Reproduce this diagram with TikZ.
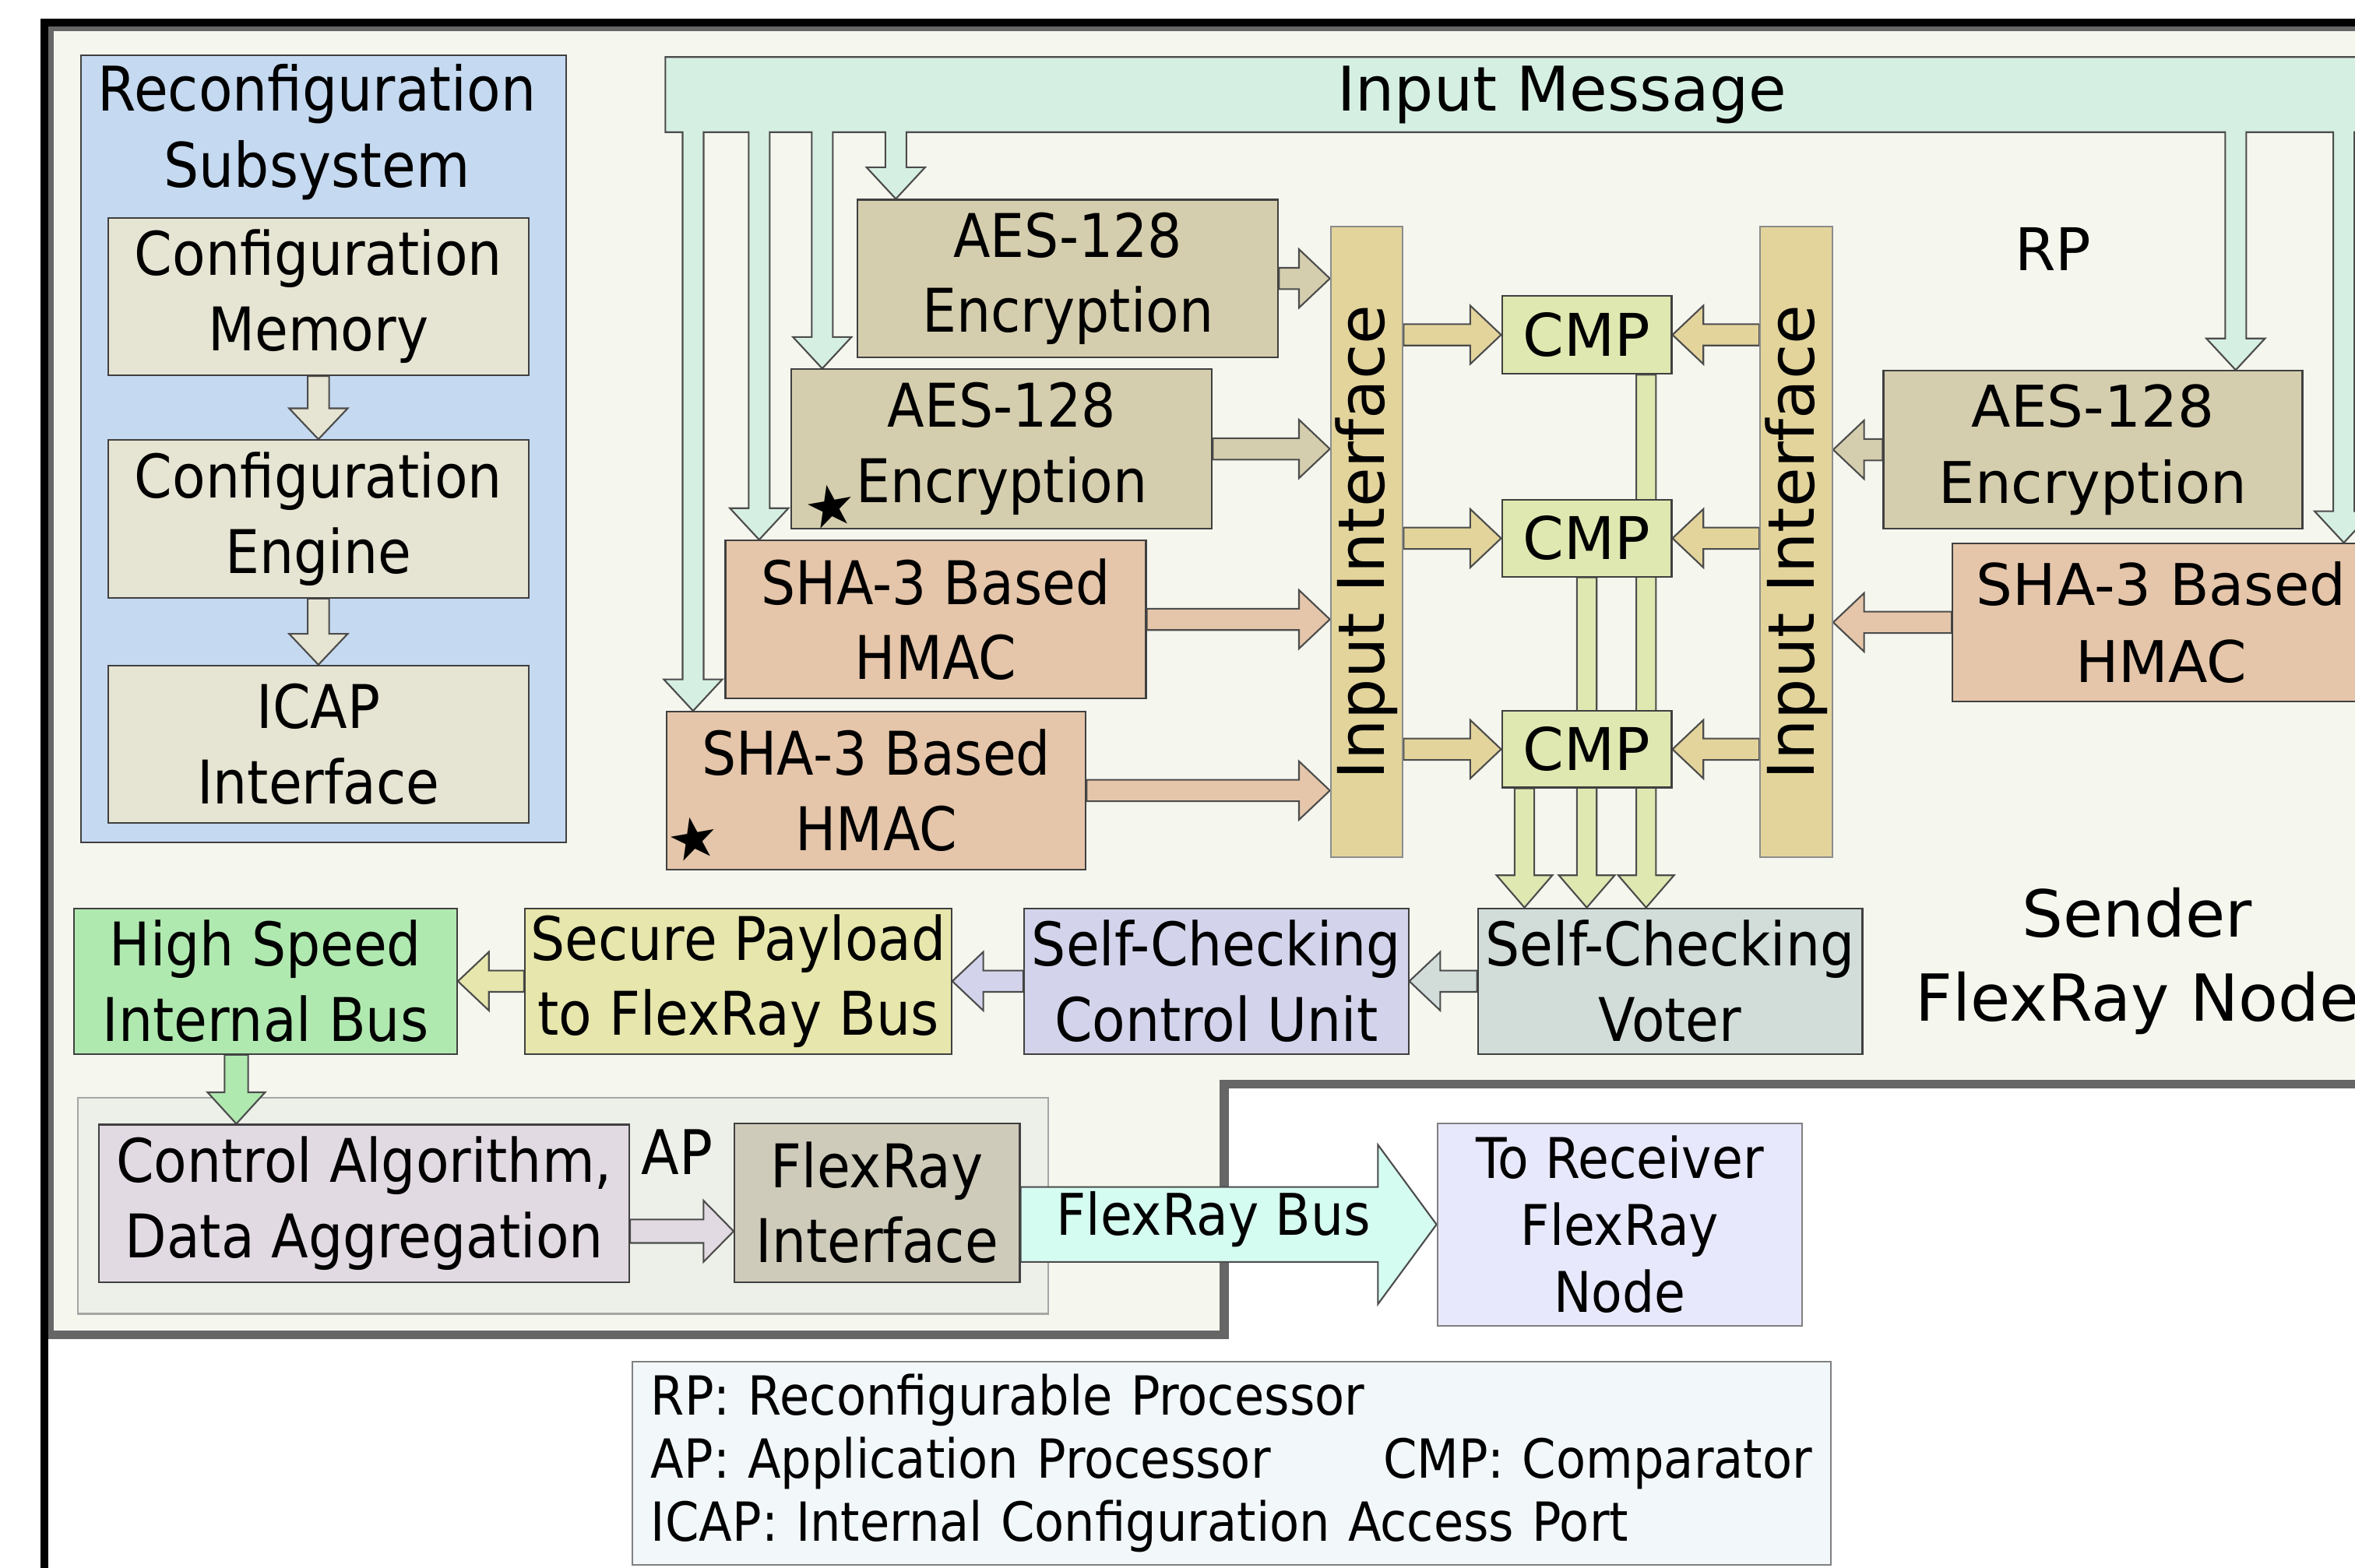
\documentclass[tikz,border=0pt]{standalone}
\usepackage{fontspec}
\newfontfamily\condfont[FakeStretch=0.9]{DejaVu Sans}
\newfontfamily\widefont{DejaVu Sans}
\usetikzlibrary{calc,positioning}

\definecolor{senderbg}{HTML}{F5F6EE}
\definecolor{senderln}{HTML}{666666}
\definecolor{reconcol}{HTML}{C5D9F0}
\definecolor{cfgcol}{HTML}{E6E4D2}
\definecolor{msgcol}{HTML}{D6EFE3}
\definecolor{aescol}{HTML}{D5CEAE}
\definecolor{shacol}{HTML}{E5C6AA}
\definecolor{ifcol}{HTML}{E3D49C}
\definecolor{cmpcol}{HTML}{DFE8B0}
\definecolor{votercol}{HTML}{D2DDDA}
\definecolor{ctrlcol}{HTML}{D3D3EB}
\definecolor{paycol}{HTML}{E7E6AC}
\definecolor{buscol}{HTML}{B0E9B0}
\definecolor{apcol}{HTML}{ECF0E8}
\definecolor{algcol}{HTML}{E2DAE2}
\definecolor{fricol}{HTML}{CFCBBA}
\definecolor{frbcol}{HTML}{D5FCF1}
\definecolor{recvcol}{HTML}{E8E8FC}
\definecolor{legcol}{HTML}{F2F7FA}

\pgfdeclarelayer{back}
\pgfdeclarelayer{mid}
\pgfsetlayers{back,mid,main}

\newcommand{\pxu}{0.19286mm}

\tikzset{
  blk/.style n args={3}{to path={let \p1=(\tikztostart), \p2=(\tikztotarget),
      \n1={atan2(\y2-\y1,\x2-\x1)} in
      ($(\p1)+(\n1+90:#1)$) -- ($(\p2)+(\n1+180:#3)+(\n1+90:#1)$)
      -- ($(\p2)+(\n1+180:#3)+(\n1+90:#2)$) -- (\p2)
      -- ($(\p2)+(\n1+180:#3)+(\n1-90:#2)$)
      -- ($(\p2)+(\n1+180:#3)+(\n1-90:#1)$)
      -- ($(\p1)+(\n1-90:#1)$) -- cycle}},
  arr/.style={draw=black!70, line width=0.6pt, blk={3.9pt}{10.7pt}{11.3pt}},
  vdarr/.style={arr, blk={3.6pt}{10.2pt}{11.8pt}},
  arm/.style={insert path={-- ($(#1 |- msgSE)+(7,0)$) -- ($(#1)+(7,-21)$)
      -- ($(#1)+(19.5,-21)$) -- (#1) -- ($(#1)+(-19.5,-21)$)
      -- ($(#1)+(-7,-21)$) -- ($(#1 |- msgSE)+(-7,0)$)}},
  box/.style={draw=black!75, line width=0.6pt, inner sep=0pt, align=center,
    font=\condfont\fontsize{22}{27.5}\selectfont},
  wbox/.style={box, font=\widefont\fontsize{21}{28}\selectfont},
  sz/.style 2 args={minimum width=#1*\pxu, minimum height=#2*\pxu},
  lbl/.style={align=center, inner sep=0pt, font=\condfont\fontsize{22.5}{28}\selectfont},
  wlbl/.style={align=center, inner sep=0pt, font=\widefont\fontsize{21.5}{27}\selectfont},
  starmk/.style={inner sep=0pt, rotate=10, font=\widefont\fontsize{21}{21}\selectfont},
}

\begin{document}
\begin{tikzpicture}[x=0.19286mm, y=-0.19286mm]
\useasboundingbox (0,0) rectangle (1568,1044);

% reconfiguration subsystem
\node[lbl] (reconT) at (211,88) {Reconfiguration\\Subsystem};
\node[box, fill=cfgcol, sz={280}{105}] (cfgMem) at (212,197.5) {Configuration\\Memory};
\node[box, fill=cfgcol, sz={280}{105}, below=8.1mm of cfgMem] (cfgEng) {Configuration\\Engine};
\node[box, fill=cfgcol, sz={280}{105}, below=8.5mm of cfgEng] (icap) {ICAP\\Interface};

% RP
\node[box, fill=aescol, sz={280}{105}] (aesA) at (711,185.5) {AES-128\\Encryption};
\node[box, fill=aescol, sz={280}{106}] (aesB) at (667,299) {AES-128\\Encryption};
\node[box, fill=shacol, sz={280}{105}] (shaA) at (623,412.5) {SHA-3 Based\\HMAC};
\node[box, fill=shacol, sz={279}{105}] (shaB) at (583.5,526.5) {SHA-3 Based\\HMAC};
\node[starmk] (starB) at (553,337) {★};
\node[starmk] (starC) at (461.5,558.5) {★};

\node[box, fill=ifcol, draw=black!45, sz={48}{420}, font=\widefont\fontsize{23.5}{28}\selectfont] (ifl) at (910,361) {\rotatebox{90}{Input Interface}};
\node[box, fill=ifcol, draw=black!45, sz={48}{420}, font=\widefont\fontsize{23.5}{28}\selectfont] (ifr) at (1196,361) {\rotatebox{90}{Input Interface}};
\node[wbox, fill=cmpcol, sz={113}{52}, font=\widefont\fontsize{21.5}{26}\selectfont] (cmp1) at (1056.5,223) {CMP};
\node[wbox, fill=cmpcol, sz={113}{51}, font=\widefont\fontsize{21.5}{26}\selectfont] (cmp2) at (1056.5,358.5) {CMP};
\node[wbox, fill=cmpcol, sz={113}{51}, font=\widefont\fontsize{21.5}{26}\selectfont] (cmp3) at (1056.5,499) {CMP};

\node[wbox, fill=aescol, sz={279}{105}] (aesR) at (1393.5,299.5) {AES-128\\Encryption};
\node[wbox, fill=shacol, sz={278}{105}] (shaR) at (1439,414.5) {SHA-3 Based\\HMAC};

\node[wlbl] (rp) at (1367,166) {RP};
\node[wlbl, font=\widefont\fontsize{23.7}{30.7}\selectfont] (sender) at (1423,640) {Sender\\FlexRay Node};
\node[wlbl, font=\widefont\fontsize{22.5}{27}\selectfont] (msg) at (1040,63) {Input Message};

% output chain
\node[box, fill=votercol, sz={256}{97}] (voter) at (1112,653.5) {Self-Checking\\Voter};
\node[box, fill=ctrlcol, sz={256}{97}, left=8.7mm of voter] (ctrl) {Self-Checking\\Control Unit};
\node[box, fill=paycol, sz={284}{97}, left=9.1mm of ctrl] (payload) {Secure Payload\\to FlexRay Bus};
\node[box, fill=buscol, sz={255}{97}, left=8.5mm of payload] (hsbus) {High Speed\\Internal Bus};

% AP
\node[box, fill=algcol, sz={353}{105}] (calg) at (242.5,801.5) {Control Algorithm,\\Data Aggregation};
\node[box, fill=fricol, sz={190}{106}] (fri) at (584,801) {FlexRay\\Interface};
\node[lbl] (apT) at (451,767) {AP};

\node[box, fill=recvcol, draw=black!50, sz={243}{135}, font=\condfont\fontsize{20.5}{24.4}\selectfont] (recv) at (1078.5,815.5) {To Receiver\\FlexRay\\Node};
\node[lbl, font=\condfont\fontsize{21}{26}\selectfont] (busT) at (808,812) {FlexRay Bus};

\node[box, fill=legcol, draw=black!50, sz={798}{135}, text width=149.1mm, align=left, font=\condfont\fontsize{19.7}{23}\selectfont] (legend) at (820,974.5)
  {RP: Reconfigurable Processor\\AP: Application Processor\hfill CMP: Comparator\\ICAP: Internal Configuration Access Port};

\begin{pgfonlayer}{back}
\draw[senderln, line width=3.3pt, fill=senderbg] (33,18) -- (1600,18) -- (1600,722) -- (815,722) -- (815,889) -- (33,889) -- cycle;
\node[draw=black!75, line width=0.6pt, fill=reconcol, sz={323}{524}] (recon) at (215.5,299) {};
\node[draw=black!35, line width=0.6pt, fill=apcol, sz={646}{144}] (apbox) at (375,803) {};
\end{pgfonlayer}

\begin{pgfonlayer}{mid}
% input message bus
\coordinate (msgNW) at (443,38);
\coordinate (msgSE) at (1600,88);
\coordinate (tipA) at ($(shaB.north west)+(18,0)$);
\coordinate (tipB) at ($(shaA.north west)+(23,0)$);
\coordinate (tipC) at ($(aesB.north west)+(21,0)$);
\coordinate (tipD) at ($(aesA.north west)+(26,0)$);
\coordinate (tipE) at ($(aesR.north east)+(-45,0)$);
\coordinate (tipF) at ($(shaR.north east)+(-18,0)$);
\draw[draw=black!70, line width=0.6pt, fill=msgcol] (msgNW) -- (msgNW -| msgSE) -- (msgSE)
  [arm=tipF] [arm=tipE] [arm=tipD] [arm=tipC] [arm=tipB] [arm=tipA] -- (msgNW |- msgSE) -- cycle;

\draw[arr, fill=cfgcol] (cfgMem.south) to (cfgEng.north);
\draw[arr, fill=cfgcol] (cfgEng.south) to (icap.north);
\draw[arr, fill=aescol] (aesA.east) to (aesA.east -| ifl.west);
\draw[arr, fill=aescol] (aesB.east) to (aesB.east -| ifl.west);
\draw[arr, fill=shacol] (shaA.east) to (shaA.east -| ifl.west);
\draw[arr, fill=shacol] (shaB.east) to (shaB.east -| ifl.west);
\foreach \cm in {cmp1,cmp2,cmp3} {
  \draw[arr, fill=ifcol] (\cm.west -| ifl.east) to (\cm.west);
  \draw[arr, fill=ifcol] (\cm.east -| ifr.west) to (\cm.east);
}
\draw[arr, fill=aescol] (aesR.west) to (aesR.west -| ifr.east);
\draw[arr, fill=shacol] (shaR.west) to (shaR.west -| ifr.east);

% comparator outputs
\coordinate (c1o) at ($(cmp1.south)+(39.5,0)$);
\coordinate (c3o) at ($(cmp3.south)+(-41.5,0)$);
\draw[vdarr, fill=cmpcol] (c1o) to (c1o |- voter.north);
\draw[vdarr, fill=cmpcol] (cmp2.south) to (cmp2.south |- voter.north);
\draw[vdarr, fill=cmpcol] (c3o) to (c3o |- voter.north);

\draw[arr, fill=votercol] (voter.west) to (ctrl.east);
\draw[arr, fill=ctrlcol] (ctrl.west) to (payload.east);
\draw[arr, fill=paycol] (payload.west) to (hsbus.east);
\coordinate (hsOut) at ($(hsbus.south)+(-19.5,0)$);
\draw[arr, fill=buscol, blk={4.3pt}{10.5pt}{11.5pt}] (hsOut) to (hsOut |- calg.north);
\coordinate (caOut) at ($(calg.east)+(0,18.5)$);
\draw[arr, fill=algcol, blk={4.3pt}{11.2pt}{11pt}] (caOut) to (caOut -| fri.west);
\draw[arr, fill=frbcol, blk={13.7pt}{29.1pt}{21.4pt}] (fri.east |- recv.west) to (recv.west);
\end{pgfonlayer}

% outer frame
\draw[line width=3pt] (29.5,1100) -- (29.5,15) -- (1600,15);
\end{tikzpicture}
\end{document}
